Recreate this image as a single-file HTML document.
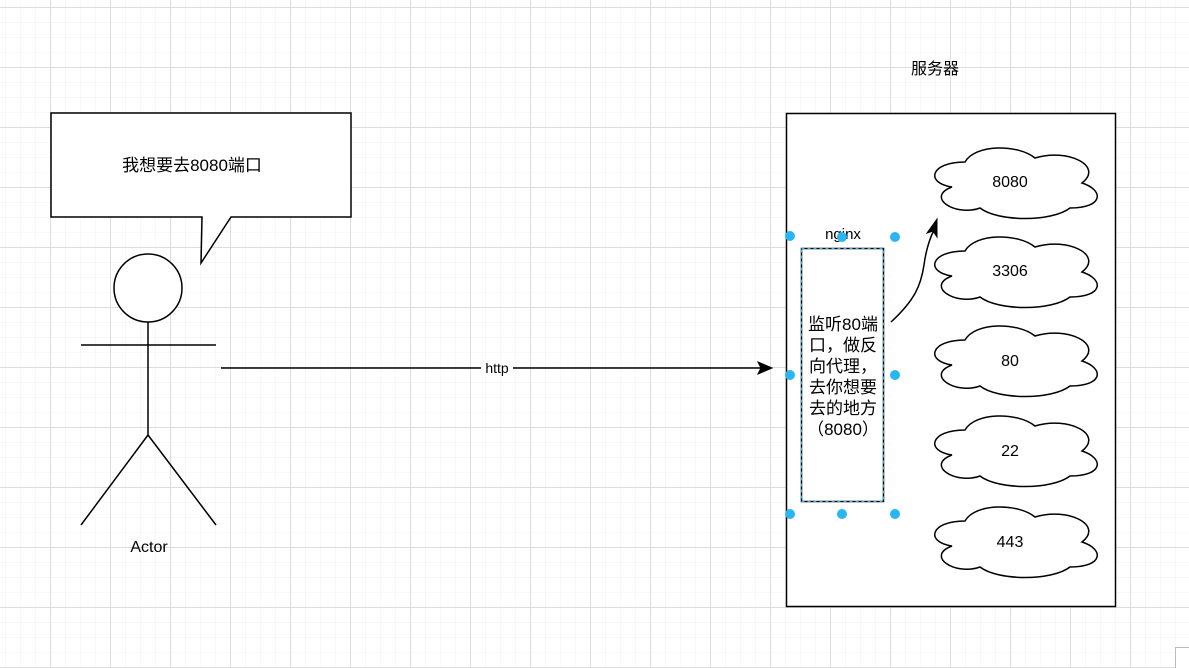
<!DOCTYPE html>
<html><head><meta charset="utf-8"><style>
html,body{margin:0;padding:0;background:#fff}
svg{display:block}
text{font-family:"Liberation Sans","Noto Sans CJK SC",sans-serif;fill:#000}
</style></head><body>
<svg width="1189" height="668" viewBox="0 0 1189 668" xmlns="http://www.w3.org/2000/svg">
<defs>
<pattern id="minor" x="5" y="7" width="15" height="15" patternUnits="userSpaceOnUse">
<path d="M0 0V15M0 0H15" stroke="#f2f2f2" stroke-width="1" fill="none"/>
</pattern>
<pattern id="major" x="50" y="7" width="60" height="60" patternUnits="userSpaceOnUse">
<path d="M0.5 0V60M0 0.5H60" stroke="#dcdcdc" stroke-width="1" fill="none"/>
</pattern>
</defs>
<rect width="1189" height="668" fill="url(#minor)"/>
<rect width="1189" height="668" fill="url(#major)"/>

<!-- speech bubble -->
<path d="M51 113H351V217H231L201 263L202 217H51Z" fill="#fff" stroke="#000" stroke-width="1.5"/>
<text x="192" y="171" font-size="17" text-anchor="middle">我想要去8080端口</text>

<!-- actor -->
<circle cx="148" cy="288" r="34" fill="#fff" stroke="#000" stroke-width="1.5"/>
<path d="M148 322V435M81 345H216M148 435L81 525M148 435L216 525" stroke="#000" stroke-width="1.5" fill="none"/>
<text x="149" y="552" font-size="16" text-anchor="middle">Actor</text>

<!-- http arrow -->
<path d="M221 368H762" stroke="#000" stroke-width="1.5"/>
<path d="M772 368L758 362L761 368L758 374Z" fill="#000" stroke="#000"/>
<rect x="481" y="360" width="32" height="16" fill="#fff"/>
<text x="497" y="373" font-size="14" text-anchor="middle">http</text>

<!-- server -->
<text x="935" y="74" font-size="16" text-anchor="middle">服务器</text>
<rect x="786.5" y="113.5" width="329" height="493" fill="#fff" stroke="#000" stroke-width="1.5"/>

<!-- clouds -->
<g fill="#fff" stroke="#000" stroke-width="1.5">
<path d="M965,162 C930,162 925,183 952,187 C925,197 955,217 980,208 C998,222 1052,222 1070,208 C1104,208 1104,190 1082,183 C1104,166 1068,148 1035,158 C1018,144 975,144 965,162 Z"/>
<path d="M965,251 C930,251 925,272 952,276 C925,286 955,306 980,297 C998,311 1052,311 1070,297 C1104,297 1104,279 1082,272 C1104,255 1068,237 1035,247 C1018,233 975,233 965,251 Z"/>
<path d="M965,340 C930,340 925,361 952,365 C925,375 955,395 980,386 C998,400 1052,400 1070,386 C1104,386 1104,368 1082,361 C1104,344 1068,326 1035,336 C1018,322 975,322 965,340 Z"/>
<path d="M965,430 C930,430 925,451 952,455 C925,465 955,485 980,476 C998,490 1052,490 1070,476 C1104,476 1104,458 1082,451 C1104,434 1068,416 1035,426 C1018,412 975,412 965,430 Z"/>
<path d="M965,521 C930,521 925,542 952,546 C925,556 955,576 980,567 C998,581 1052,581 1070,567 C1104,567 1104,549 1082,542 C1104,525 1068,507 1035,517 C1018,503 975,503 965,521 Z"/>
</g>
<text x="1010" y="187" font-size="16" text-anchor="middle">8080</text>
<text x="1010" y="276" font-size="16" text-anchor="middle">3306</text>
<text x="1010" y="366" font-size="16" text-anchor="middle">80</text>
<text x="1010" y="456" font-size="16" text-anchor="middle">22</text>
<text x="1010" y="547" font-size="16" text-anchor="middle">443</text>

<!-- nginx box -->
<rect x="801.5" y="248.5" width="82" height="253" fill="#fff" stroke="#000" stroke-width="1.5"/>
<rect x="801.5" y="248.5" width="82" height="253" fill="none" stroke="#29b6f2" stroke-width="1" stroke-dasharray="3 3"/>
<text x="843" y="239" font-size="15" text-anchor="middle">nginx</text>
<g font-size="17" text-anchor="middle">
<text x="843" y="330">监听80端</text>
<text x="843" y="351">口，做反</text>
<text x="843" y="372">向代理，</text>
<text x="843" y="393">去你想要</text>
<text x="843" y="414">去的地方</text>
<text x="843" y="435">（8080）</text>
</g>

<!-- curved arrow -->
<path d="M891 322C915 300 921 285 924 265C926 250 930 238 934 230" stroke="#000" stroke-width="1.5" fill="none"/>
<path d="M937 219L927 233L933 231L937 237Z" fill="#000" stroke="#000"/>

<!-- handles -->
<g fill="#29b6f2">
<circle cx="790" cy="236" r="5"/><circle cx="842" cy="237" r="5"/><circle cx="895" cy="237" r="5"/>
<circle cx="790" cy="375" r="5"/><circle cx="895" cy="375" r="5"/>
<circle cx="790" cy="514" r="5"/><circle cx="842" cy="514" r="5"/><circle cx="895" cy="514" r="5"/>
</g>

<rect x="1175.5" y="647.5" width="20" height="30" fill="#fff" stroke="#bbb"/>
</svg>
</body></html>
